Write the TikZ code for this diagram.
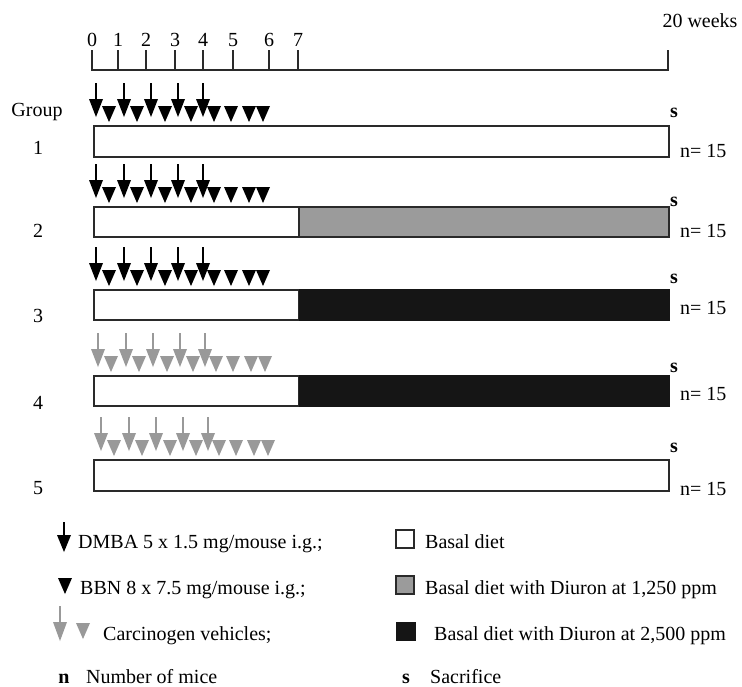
\documentclass[tikz,border=0pt]{standalone}
\usepackage{fontspec}
\setmainfont{Liberation Serif}
\definecolor{vgray}{HTML}{999999}
\definecolor{bargray}{HTML}{9B9B9B}
\definecolor{barblack}{HTML}{151515}
\definecolor{edge}{HTML}{2A2A2A}
\newcommand\bbntri[3]{\fill[#3] (#1-7,#2) -- (#1+7,#2) -- (#1,#2+16) -- cycle;}
\newcommand\dmbaarr[5]{\draw[#5,line width=1.5pt] (#1,#2) -- (#1,#3+2);\fill[#5] (#1-7,#3) -- (#1+7,#3) -- (#1,#4) -- cycle;}
\begin{document}
\begin{tikzpicture}[x=1pt,y=-1pt,
  txt/.style={font=\fontsize{20}{24}\selectfont, inner sep=0pt},
  bartext/.style={txt, anchor=base west},
  axisline/.style={line width=1.5pt, color=edge},
  barline/.style={line width=1.8pt, draw=edge}]
\useasboundingbox (0,0) rectangle (742,686);
% axis
\draw[axisline] (92,50) -- (92,70) -- (668,70) -- (668,50);
\foreach \x/\l in {92/0,118/1,146/2,175/3,203/4,233/5,269/6,298/7}{
  \draw[axisline] (\x,50) -- (\x,70);
  \node[txt, anchor=base] (t\l) at (\x,46) {\l};
}
\node[txt, anchor=base] (weeks) at (700,27) {20 weeks};
\node[txt, anchor=base] (grp) at (37,116) {Group};
% group marks
\foreach \T/\dx/\c in {126/0/black,207/0/black,290/0/black,376/2/vgray,460/5/vgray}{
  \foreach \x in {109,137,165,191,214,231,249,263}{\bbntri{\x+\dx}{\T-20}{\c}}
  \foreach \x in {96,124,151,178,203}{\dmbaarr{\x+\dx}{\T-43}{\T-27}{\T-9}{\c}}
}
% bars
\draw[barline, fill=white] (94,126) rectangle (669,157);
\draw[barline, fill=white] (94,207) rectangle (299,237);
\draw[barline, fill=bargray] (299,207) rectangle (669,237);
\draw[barline, fill=white] (94,290) rectangle (299,320);
\fill[barblack] (299,289.1) rectangle (670,320.9);
\draw[barline, fill=white] (94,376) rectangle (299,406);
\fill[barblack] (299,375.1) rectangle (670,406.9);
\draw[barline, fill=white] (94,460) rectangle (669,491);
% group labels
\foreach \n/\y in {1/154,2/237,3/322,4/409,5/494}{
  \node[txt, anchor=base] (g\n) at (38,\y) {\n};
}
% s and n labels
\foreach \i/\sy/\ny in {1/117/157,2/206/237,3/283/314,4/372/400,5/452/495}{
  \node[txt, anchor=base] (s\i) at (674,\sy) {\textbf{s}};
  \node[bartext] (n\i) at (680,\ny) {n= 15};
}
% legend left
\dmbaarr{64}{522}{535}{552}{black}
\node[bartext] (l1) at (78,548) {DMBA 5 x 1.5 mg/mouse i.g.;};
\bbntri{65}{578}{black}
\node[bartext] (l2) at (80,594) {BBN 8 x 7.5 mg/mouse i.g.;};
\dmbaarr{60}{606}{622}{641}{vgray}
\bbntri{83}{623}{vgray}
\node[bartext] (l3) at (103,640) {Carcinogen vehicles;};
\node[txt, anchor=base] (l4a) at (64,683) {\textbf{n}};
\node[bartext] (l4) at (86,683) {Number of mice};
% legend right
\draw[line width=1.5pt, draw=edge, fill=white] (396,530) rectangle (414,548);
\node[bartext] (r1) at (425,548) {Basal diet};
\draw[line width=1.5pt, draw=edge, fill=bargray] (396,576) rectangle (414,594);
\node[bartext] (r2) at (425,594) {Basal diet with Diuron at 1,250 ppm};
\fill[barblack] (396,622) rectangle (416,641);
\node[bartext] (r3) at (434,640) {Basal diet with Diuron at 2,500 ppm};
\node[txt, anchor=base] (r4a) at (406,683) {\textbf{s}};
\node[bartext] (r4) at (430,683) {Sacrifice};
\end{tikzpicture}
\end{document}
